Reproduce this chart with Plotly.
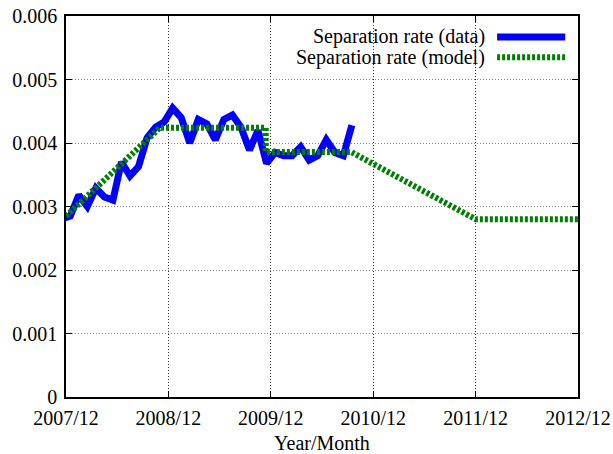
import plotly.graph_objects as go

# months since 2007/12 (observed series sits half a month earlier)
data_months = [k - 0.5 for k in range(35)]
data_rate = [0.00280, 0.00285, 0.00318, 0.00300, 0.00329, 0.00315, 0.00310,
             0.00370, 0.00348, 0.00363, 0.00408, 0.00425, 0.00433, 0.00455,
             0.00440, 0.00400, 0.00437, 0.00430, 0.00405, 0.00437, 0.00444,
             0.00425, 0.00389, 0.00420, 0.00368, 0.00385, 0.00380, 0.00380,
             0.00394, 0.00373, 0.00380, 0.00405, 0.00385, 0.00380, 0.00428]

model_months = [0, 11, 23.4, 23.4, 33.4, 48, 60]
model_rate = [0.00285, 0.00424, 0.00424, 0.00386, 0.00386, 0.00280, 0.00280]

tick_months = [0, 12, 24, 36, 48, 60]
tick_labels = ["2007/12", "2008/12", "2009/12", "2010/12", "2011/12", "2012/12"]
y_ticks = [0, 0.001, 0.002, 0.003, 0.004, 0.005, 0.006]
y_labels = ["0", "0.001", "0.002", "0.003", "0.004", "0.005", "0.006"]

legend_names = ["Separation rate (data)", "Separation rate (model)"]
BLUE = "#0000ff"
GREEN = "#008000"
FONT = "Liberation Serif"

fig = go.Figure()
fig.add_trace(go.Scatter(x=data_months, y=data_rate, mode="lines",
                         line=dict(color=BLUE, width=7), showlegend=False))
fig.add_trace(go.Scatter(x=model_months, y=model_rate, mode="lines",
                         line=dict(color=GREEN, width=6, dash="3px,2px"),
                         showlegend=False))

# gnuplot-style key: text on the left, sample on the right
key_rows = [(0.945, BLUE, "solid"), (0.892, GREEN, "3px,2px")]
for name, (yk, col, dash) in zip(legend_names, key_rows):
    fig.add_annotation(x=0.822, y=yk, xref="paper", yref="paper", text=name,
                       showarrow=False, xanchor="right", yanchor="middle",
                       font=dict(family=FONT, size=20, color="black"))
    fig.add_shape(type="line", xref="paper", yref="paper",
                  x0=0.842, x1=0.975, y0=yk, y1=yk,
                  line=dict(color=col, width=7 if dash == "solid" else 6, dash=dash))

axis_common = dict(showline=True, linecolor="black", linewidth=1.5, mirror="allticks",
                   ticks="inside", ticklen=6, tickcolor="black",
                   showgrid=True, griddash="1px,2px", gridwidth=1,
                   zeroline=False, tickfont=dict(family=FONT, size=20, color="black"))

fig.update_xaxes(range=[0, 60], tickvals=tick_months, ticktext=tick_labels,
                 gridcolor="#333333", ticklabelstandoff=2,
                 title=dict(text="Year/Month", font=dict(family=FONT, size=20, color="black"),
                            standoff=12),
                 automargin=False, **axis_common)
fig.update_yaxes(range=[0, 0.006], tickvals=y_ticks, ticktext=y_labels,
                 gridcolor="#888888", ticklabelstandoff=3, automargin=False, **axis_common)

fig.update_layout(width=613, height=454, margin=dict(l=66, r=35, t=16, b=57),
                  plot_bgcolor="white", paper_bgcolor="white",
                  font=dict(family=FONT, size=20, color="black"))

fig.write_html("out.html", config={"displayModeBar": False},
               post_script="document.body.style.margin='0';document.body.style.overflow='hidden';")
